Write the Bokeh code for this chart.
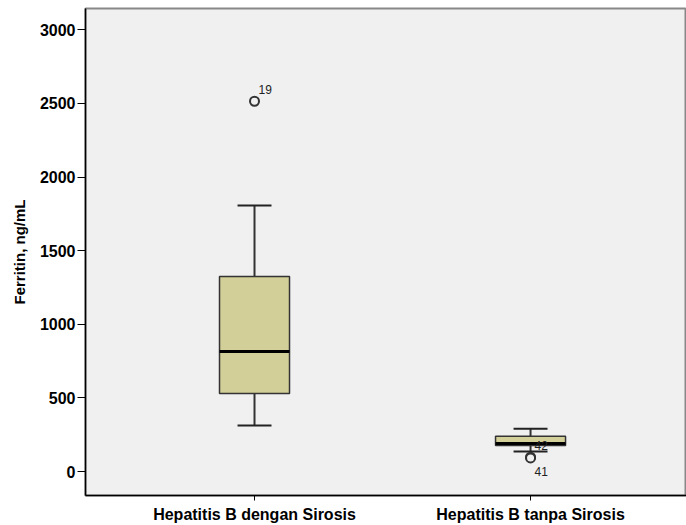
from bokeh.plotting import figure
from bokeh.models import Range1d, FixedTicker, ColumnDataSource
from bokeh.core.properties import value
from bokeh.embed import file_html
from bokeh.resources import INLINE

categories = ["Hepatitis B dengan Sirosis", "Hepatitis B tanpa Sirosis"]
positions = [1, 2]
q1 = [530, 177]
median = [815, 190]
q3 = [1325, 240]
lower_whisker = [312, 136]
upper_whisker = [1807, 290]

outlier_pos = [1, 2, 2]
outlier_val = [2515, 97, 92]
outlier_id = ["19", "42", "41"]
outlier_dy = [-12, -12, 14]

yticks = [0, 500, 1000, 1500, 2000, 2500, 3000]

FONT = "Liberation Sans"
BOX_W = 0.2536
CAP_W = 0.123

p = figure(width=686, height=525, output_backend="svg", toolbar_location=None,
           x_range=Range1d(0.3877, 2.565), y_range=Range1d(-163, 3145),
           min_border_left=85, min_border_right=0, min_border_top=8, min_border_bottom=30)
p.background_fill_color = "#F0F0F0"
p.border_fill_color = "white"
p.outline_line_color = "#888888"
p.outline_line_width = 2
p.grid.visible = False

src = ColumnDataSource(dict(x=positions, q1=q1, med=median, q3=q3, lo=lower_whisker, hi=upper_whisker,
                            x0=[x - CAP_W / 2 for x in positions], x1=[x + CAP_W / 2 for x in positions],
                            mx0=[x - BOX_W / 2 for x in positions], mx1=[x + BOX_W / 2 for x in positions]))

# whiskers
p.segment(x0="x", y0="q3", x1="x", y1="hi", source=src, line_color="#333333", line_width=2)
p.segment(x0="x", y0="q1", x1="x", y1="lo", source=src, line_color="#333333", line_width=2)
p.segment(x0="x0", y0="hi", x1="x1", y1="hi", source=src, line_color="#222222", line_width=2)
p.segment(x0="x0", y0="lo", x1="x1", y1="lo", source=src, line_color="#222222", line_width=2)
# boxes
p.vbar(x="x", top="q3", bottom="q1", width=BOX_W, source=src,
       fill_color="#D3CF98", line_color="#333333", line_width=1.5)
# medians
p.segment(x0="mx0", y0="med", x1="mx1", y1="med", source=src, line_color="black", line_width=3)

osrc = ColumnDataSource(dict(x=outlier_pos, y=outlier_val, t=outlier_id, dy=outlier_dy))
p.scatter(x="x", y="y", source=osrc, size=9, marker="circle", fill_color="#F0F0F0",
          line_color="#333333", line_width=2)
p.text(x="x", y="y", text="t", source=osrc, x_offset=4, y_offset="dy",
       text_font=value(FONT), text_font_size="12px", text_color="#222222",
       text_baseline="middle", text_align="left")

p.xaxis.ticker = FixedTicker(ticks=positions)
p.xaxis.major_label_overrides = {pos: c for pos, c in zip(positions, categories)}
p.xaxis.minor_tick_line_color = None
p.xaxis.major_tick_in = 0
p.xaxis.major_tick_out = 5
p.xaxis.major_label_standoff = 5
p.xaxis.major_label_text_font = FONT
p.xaxis.major_label_text_font_style = "bold"
p.xaxis.major_label_text_font_size = "16px"
p.xaxis.major_label_text_color = "black"
p.xaxis.axis_line_color = "black"
p.xaxis.axis_line_width = 1.5

p.yaxis.ticker = FixedTicker(ticks=yticks)
p.yaxis.minor_tick_line_color = None
p.yaxis.major_tick_in = 0
p.yaxis.major_tick_out = 8
p.yaxis.major_label_standoff = 2
p.yaxis.major_label_text_font = FONT
p.yaxis.major_label_text_font_style = "bold"
p.yaxis.major_label_text_font_size = "16px"
p.yaxis.major_label_text_color = "black"
p.yaxis.axis_line_color = "black"
p.yaxis.axis_line_width = 1.5
p.yaxis.axis_label = "Ferritin, ng/mL"
p.yaxis.axis_label_text_font = FONT
p.yaxis.axis_label_text_font_style = "bold"
p.yaxis.axis_label_text_font_size = "15px"
p.yaxis.axis_label_text_color = "black"
p.yaxis.axis_label_standoff = 9

open("out.html", "w").write(file_html(p, INLINE))
